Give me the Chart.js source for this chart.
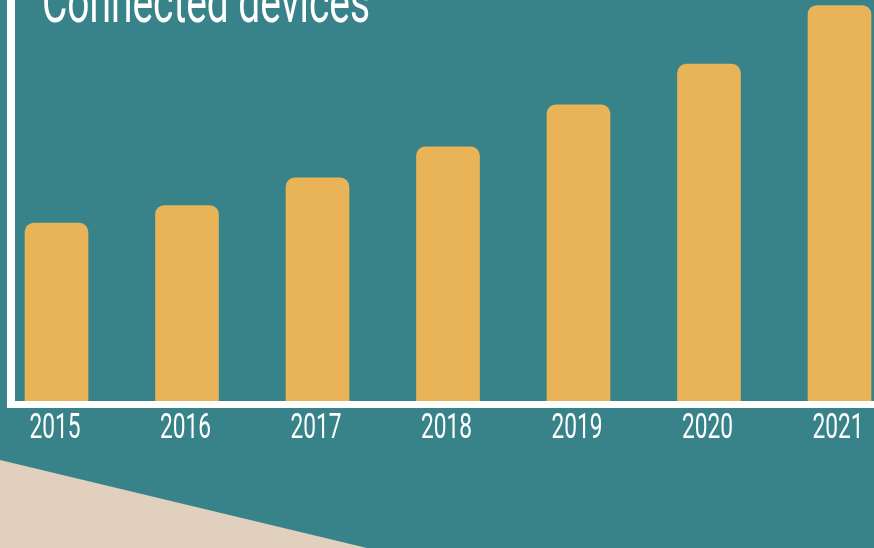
<!DOCTYPE html>
<html>
<head>
<meta charset="utf-8">
<script src="https://cdn.jsdelivr.net/npm/chart.js@4/dist/chart.umd.min.js"></script>
<style>
  html, body { margin: 0; padding: 0; background: #38838a; overflow: hidden; }
  #wrap { width: 874px; height: 548px; position: relative; }
</style>
</head>
<body>
<div id="wrap"><canvas id="devicesChart" width="874" height="548"></canvas></div>
<script>
// Connected devices (billions)
const years = ['2015', '2016', '2017', '2018', '2019', '2020', '2021'];
const devices = [16.1, 17.7, 20.2, 23.0, 26.8, 30.5, 35.8];
const chartTitle = 'Connected devices';

const TEAL = '#38838a';
const GOLD = '#e9b358';
const BEIGE = '#e1d0bd';
const WHITE = '#ffffff';

// draws text squeezed horizontally to a given width (condensed look)
function condensedText(ctx, text, x, y, font, width, align) {
    ctx.save();
    ctx.font = font;
    const w = ctx.measureText(text).width;
    const sx = width / w;
    ctx.textBaseline = 'alphabetic';
    ctx.textAlign = 'left';
    let startX = x;
    if (align === 'center') startX = x - width / 2;
    ctx.translate(startX, y);
    ctx.scale(sx, 1);
    ctx.fillText(text, 0, 0);
    ctx.restore();
}

const backdrop = {
    id: 'backdrop',
    beforeDraw(chart) {
        const { ctx, width, height } = chart;
        ctx.save();
        ctx.fillStyle = TEAL;
        ctx.fillRect(0, 0, width, height);
        // beige wedge bottom left
        ctx.fillStyle = BEIGE;
        ctx.beginPath();
        ctx.moveTo(0, 460);
        ctx.lineTo(367, height);
        ctx.lineTo(0, height);
        ctx.closePath();
        ctx.fill();
        ctx.restore();
    }
};

const frameAndLabels = {
    id: 'frameAndLabels',
    afterDatasetsDraw(chart) {
        const { ctx, width } = chart;
        const xScale = chart.scales.x;
        const yScale = chart.scales.y;
        const base = yScale.getPixelForValue(0);

        ctx.save();
        ctx.fillStyle = WHITE;
        // white L frame
        ctx.fillRect(7, 0, 8, base + 7);
        ctx.fillRect(7, base, width - 7, 7);

        // year labels
        years.forEach((label, i) => {
            const x = xScale.getPixelForTick(i);
            condensedText(ctx, label, x - 1.5, base + 37, '400 35px Roboto, "Open Sans", sans-serif', 51, 'center');
        });

        // title, cut off by top edge
        condensedText(ctx, chartTitle, 42, 22, '400 60px Roboto, "Open Sans", sans-serif', 328, 'left');
        ctx.restore();
    }
};

new Chart(document.getElementById('devicesChart').getContext('2d'), {
    type: 'bar',
    data: {
        labels: years,
        datasets: [{
            data: devices,
            backgroundColor: GOLD,
            borderWidth: 0,
            borderRadius: { topLeft: 9, topRight: 9, bottomLeft: 0, bottomRight: 0 },
            borderSkipped: 'bottom',
            barThickness: 63,
            clip: false
        }]
    },
    options: {
        responsive: false,
        animation: false,
        devicePixelRatio: 1,
        layout: { padding: { left: 56.5, right: 34.5, top: 0, bottom: 147 } },
        plugins: {
            legend: { display: false },
            tooltip: { enabled: false },
            title: { display: false }
        },
        scales: {
            x: { type: 'category', offset: false, display: false, grid: { display: false } },
            y: { min: 0, max: 36.3, display: false, grid: { display: false } }
        }
    },
    plugins: [backdrop, frameAndLabels]
});
</script>
</body>
</html>
